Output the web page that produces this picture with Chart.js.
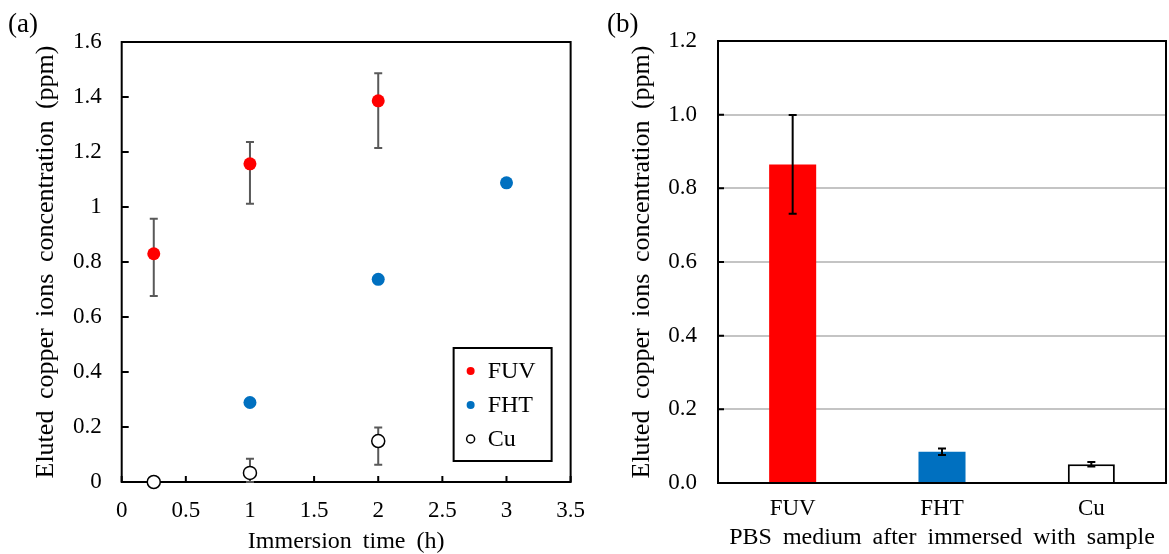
<!DOCTYPE html>
<html>
<head>
<meta charset="utf-8">
<script src="https://cdn.jsdelivr.net/npm/chart.js@4"></script>
<style>
  body { margin: 0; background: #fff; }
  #wrap { position: relative; width: 1169px; height: 554px; font-family: "Liberation Serif", serif; }
  canvas { position: absolute; top: 0; }
  #cvA { left: 0; }
  #cvB { left: 600px; }
  .panel { position: absolute; top: 8px; font-size: 27px; line-height: 30px; color: #000; }
</style>
</head>
<body>
<div id="wrap">
  <canvas id="cvA" width="600" height="554"></canvas>
  <canvas id="cvB" width="569" height="554"></canvas>
  <div class="panel" style="left:8px">(a)</div>
  <div class="panel" style="left:607px">(b)</div>
</div>
<script>
// (a) immersion time series
var timeFUV = [0.25, 1, 2];
var concFUV = [0.83, 1.157, 1.386];
var lowFUV = [0.676, 1.012, 1.215];
var highFUV = [0.957, 1.236, 1.486];

var timeFHT = [1, 2, 3];
var concFHT = [0.289, 0.737, 1.088];

var timeCu = [0.25, 1, 2];
var concCu = [0, 0.033, 0.149];
var lowCu = [null, 0, 0.063];
var highCu = [null, 0.085, 0.198];

// (b) PBS medium
var samples = ['FUV', 'FHT', 'Cu'];
var pbsConc = [0.865, 0.085, 0.051];
var pbsErr = [0.134, 0.009, 0.006];

var FONT = '"Liberation Serif", "Times New Roman", serif';
var RED = '#ff0000', BLUE = '#0070c0';
Chart.defaults.font.family = FONT;
Chart.defaults.color = '#000';

function pts(xs, ys) {
  return xs.map(function(x, i) { return { x: x, y: ys[i] }; });
}
function fmt(v) { return String(+(+v).toFixed(2)); }

// wider gaps between words, like the original figure
var spacing = {
  id: 'spacing',
  beforeDraw: function(chart) { chart.ctx.wordSpacing = '5px'; }
};

var errA = { FUV: [lowFUV, highFUV], Cu: [lowCu, highCu] };

// frame, inward ticks and error bars for chart (a)
var panelA = {
  id: 'panelA',
  beforeDatasetsDraw: function(chart) {
    var ctx = chart.ctx, a = chart.chartArea;
    var xs = chart.scales.x, ys = chart.scales.y;
    ctx.save();
    ctx.strokeStyle = '#000';
    ctx.lineWidth = 2;
    ctx.strokeRect(a.left, a.top, a.right - a.left, a.bottom - a.top);
    ctx.beginPath();
    ys.ticks.forEach(function(t) {
      var py = ys.getPixelForValue(t.value);
      ctx.moveTo(a.left, py); ctx.lineTo(a.left + 7, py);
    });
    xs.ticks.forEach(function(t) {
      var px = xs.getPixelForValue(t.value);
      ctx.moveTo(px, a.bottom); ctx.lineTo(px, a.bottom - 6);
    });
    ctx.stroke();

    // error bars behind markers
    ctx.strokeStyle = '#595959';
    ctx.lineWidth = 2;
    chart.data.datasets.forEach(function(ds) {
      var e = errA[ds.label];
      if (!e) return;
      ds.data.forEach(function(p, i) {
        if (e[0][i] == null) return;
        var px = xs.getPixelForValue(p.x);
        var y1 = ys.getPixelForValue(e[0][i]), y2 = ys.getPixelForValue(e[1][i]);
        ctx.beginPath();
        ctx.moveTo(px, y1); ctx.lineTo(px, y2);
        ctx.moveTo(px - 4, y1); ctx.lineTo(px + 4, y1);
        ctx.moveTo(px - 4, y2); ctx.lineTo(px + 4, y2);
        ctx.stroke();
      });
    });
    ctx.restore();
  },
  afterDraw: function(chart) {
    // legend box in lower right corner
    var ctx = chart.ctx, a = chart.chartArea;
    var bx = a.right - 117, by = a.bottom - 134, bw = 98, bh = 113;
    ctx.save();
    ctx.fillStyle = '#fff';
    ctx.fillRect(bx, by, bw, bh);
    ctx.strokeStyle = '#000';
    ctx.lineWidth = 2;
    ctx.strokeRect(bx, by, bw, bh);
    ctx.font = '24px ' + FONT;
    ctx.textBaseline = 'middle';
    chart.data.datasets.forEach(function(ds, i) {
      var ry = by + 23 + i * 34;
      ctx.beginPath();
      ctx.arc(bx + 17, ry, 4, 0, Math.PI * 2);
      ctx.fillStyle = ds.backgroundColor;
      ctx.fill();
      if (ds.borderWidth) {
        ctx.lineWidth = 1.5;
        ctx.strokeStyle = ds.borderColor;
        ctx.stroke();
      }
      ctx.fillStyle = '#000';
      ctx.fillText(ds.label, bx + 34, ry + 1);
    });
    ctx.restore();
  }
};

new Chart(document.getElementById('cvA'), {
  type: 'scatter',
  data: {
    datasets: [
      { label: 'FUV', data: pts(timeFUV, concFUV), backgroundColor: RED, borderColor: RED, borderWidth: 0, pointRadius: 6.5, clip: false },
      { label: 'FHT', data: pts(timeFHT, concFHT), backgroundColor: BLUE, borderColor: BLUE, borderWidth: 0, pointRadius: 6.5, clip: false },
      { label: 'Cu', data: pts(timeCu, concCu), backgroundColor: '#fff', borderColor: '#000', borderWidth: 1.5, pointRadius: 6.5, clip: false }
    ]
  },
  options: {
    responsive: false,
    animation: false,
    layout: { padding: { left: 27, top: 42, right: 27, bottom: 0 } },
    plugins: { legend: { display: false }, tooltip: { enabled: false } },
    scales: {
      x: {
        type: 'linear', min: 0, max: 3.5,
        grid: { display: false, drawTicks: false },
        border: { display: false },
        ticks: { stepSize: 0.5, padding: 15, color: '#000', font: { size: 23 }, callback: fmt },
        title: { display: true, text: 'Immersion time (h)', color: '#000', font: { size: 24 }, padding: { top: 0, bottom: -2 } },
        afterFit: function(s) { s.height = 72; }
      },
      y: {
        min: 0, max: 1.6,
        grid: { display: false, drawTicks: false },
        border: { display: false },
        ticks: { stepSize: 0.2, padding: 20, color: '#000', font: { size: 23 }, callback: fmt },
        title: { display: true, text: 'Eluted copper ions concentration (ppm)', color: '#000', font: { size: 26 }, padding: { top: 4, bottom: 0 } },
        afterFit: function(s) { s.width = 94.7; }
      }
    }
  },
  plugins: [spacing, panelA]
});

// frame, inward ticks and error bars for chart (b)
var panelB = {
  id: 'panelB',
  afterDatasetsDraw: function(chart) {
    var ctx = chart.ctx, a = chart.chartArea;
    var ys = chart.scales.y;
    var meta = chart.getDatasetMeta(0);
    ctx.save();
    ctx.strokeStyle = '#000';
    ctx.lineWidth = 2;
    meta.data.forEach(function(bar, i) {
      var v = pbsConc[i], e = pbsErr[i];
      var y1 = ys.getPixelForValue(v - e), y2 = ys.getPixelForValue(v + e);
      ctx.beginPath();
      ctx.moveTo(bar.x, y1); ctx.lineTo(bar.x, y2);
      ctx.moveTo(bar.x - 4, y1); ctx.lineTo(bar.x + 4, y1);
      ctx.moveTo(bar.x - 4, y2); ctx.lineTo(bar.x + 4, y2);
      ctx.stroke();
    });
    ctx.strokeRect(a.left, a.top, a.right - a.left, a.bottom - a.top);
    ctx.beginPath();
    ys.ticks.forEach(function(t) {
      var py = ys.getPixelForValue(t.value);
      ctx.moveTo(a.left, py); ctx.lineTo(a.left + 6, py);
    });
    ctx.stroke();
    ctx.restore();
  }
};

new Chart(document.getElementById('cvB'), {
  type: 'bar',
  data: {
    labels: samples,
    datasets: [{
      label: 'PBS',
      data: pbsConc,
      backgroundColor: [RED, BLUE, '#fff'],
      borderColor: ['#000', '#000', '#000'],
      borderWidth: [0, 0, 2],
      barPercentage: 0.315,
      categoryPercentage: 1
    }]
  },
  options: {
    responsive: false,
    animation: false,
    layout: { padding: { left: 23, top: 41, right: 3, bottom: 0 } },
    plugins: { legend: { display: false }, tooltip: { enabled: false } },
    scales: {
      x: {
        grid: { display: false, drawTicks: false },
        border: { display: false },
        ticks: { padding: 12, color: '#000', font: { size: 23 } },
        title: { display: true, text: 'PBS medium after immersed with sample', color: '#000', font: { size: 24 }, padding: { top: 0, bottom: 2 } },
        afterFit: function(s) { s.height = 71; }
      },
      y: {
        min: 0, max: 1.2,
        grid: { color: '#c4c4c4', lineWidth: 2, drawTicks: false },
        border: { display: false },
        ticks: { stepSize: 0.2, padding: 21, color: '#000', font: { size: 23 }, callback: function(v) { return (+v).toFixed(1); } },
        title: { display: true, text: 'Eluted copper ions concentration (ppm)', color: '#000', font: { size: 26 }, padding: { top: 4, bottom: 0 } },
        afterFit: function(s) { s.width = 95; }
      }
    }
  },
  plugins: [spacing, panelB]
});
</script>
</body>
</html>
